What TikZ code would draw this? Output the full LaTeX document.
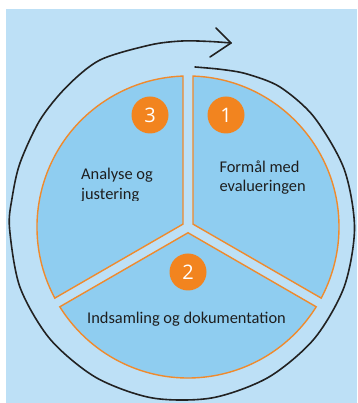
\documentclass[tikz,border=0pt]{standalone}
\usepackage{fontspec}
\setmainfont{Carlito}
\newfontfamily\numfont{Open Sans}
\usetikzlibrary{calc}
\definecolor{bgblue}{HTML}{BDE0F6}
\definecolor{sectorfill}{HTML}{8FCDF0}
\definecolor{orangeline}{HTML}{F08A2C}
\definecolor{badgeorange}{HTML}{F2841F}
\definecolor{textdark}{HTML}{1E1E1E}
\definecolor{curvecol}{HTML}{222222}
\begin{document}
\begin{tikzpicture}[x=1pt,y=1pt,
  sector/.style={draw=orangeline, line width=1.4pt, fill=sectorfill, line join=miter},
  badge/.style={circle, fill=badgeorange, minimum size=37pt, inner sep=0pt, text=white, font=\numfont\fontsize{20}{24}\selectfont},
  txt/.style={inner sep=0pt, text=textdark, font=\fontsize{16.4}{19}\selectfont},
  cycleline/.style={draw=curvecol, line width=1.6pt, line cap=round, line join=round}]
\useasboundingbox (0,0) rectangle (357,403);
\fill[bgblue] (6,0) rectangle (357,394);
\coordinate (C) at (188,176);
% sectors
\draw[sector] ($(C)+(30:5.774)$) -- ($(C)+(88.1:151)$) arc[start angle=88.1,end angle=-28.1,radius=151] -- cycle;
\draw[sector] ($(C)+(270:5.774)$) -- ($(C)+(-31.9:151)$) arc[start angle=-31.9,end angle=-148.1,radius=151] -- cycle;
\draw[sector] ($(C)+(150:5.774)$) -- ($(C)+(208.1:151)$) arc[start angle=208.1,end angle=91.9,radius=151] -- cycle;
% cycle arrow
\coordinate (tip) at (231,360);
\coordinate (barbA) at (216,375);
\coordinate (barbB) at (210,346);
\draw[cycleline] plot[smooth] coordinates {(195,336) (222,333.5) (247,329) (280,316) (314.1,285.9) (344.1,234) (354.5,175) (344.1,116) (314.1,64.1) (268.3,25.6) (212,5.1) (152,5.1) (95.8,25.6) (49.9,64.1) (19.9,116) (9.5,175) (12.1,205) (20,240) (40,283) (66.7,316.3) (100,343) (150,358) (182,362) (210,361.5) (231,360)};
\draw[cycleline] (barbA) -- (tip) -- (barbB);
% badges
\node[badge] (b3) at (150,288) {3};
\node[badge] (b1) at (226,288) {1};
\node[badge] (b2) at (188,131) {2};
% labels
\node[txt, anchor=base west] (t3a) at (81,223) {Analyse og};
\begin{scope}
\clip (0,202.3) rectangle (357,403);
\node[txt, anchor=base west] (t3b) at (81,203) {justering};
\end{scope}
\node[txt, anchor=base west] (t1a) at (219.3,230.3) {Formål med};
\node[txt, anchor=base west] (t1b) at (219.3,211.3) {evalueringen};
\node[txt, anchor=base] (t2) at (186.5,79) {Indsamling og dokumentation};
\end{tikzpicture}
\end{document}
